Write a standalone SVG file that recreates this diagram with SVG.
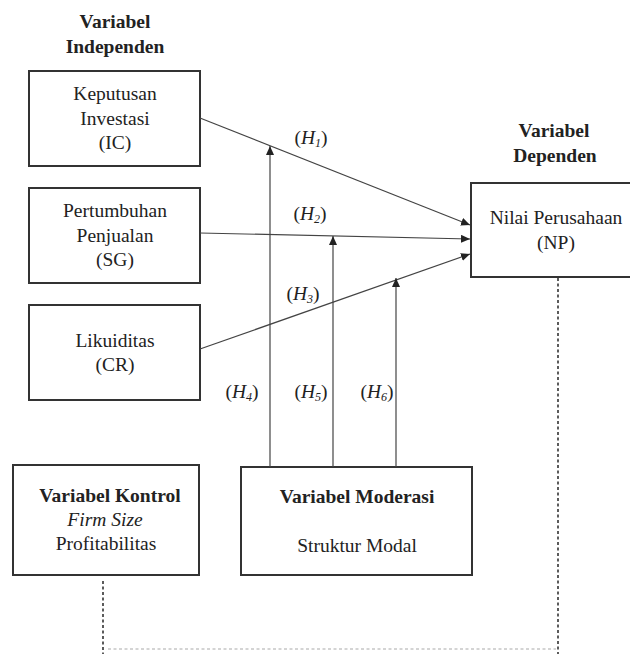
<svg xmlns="http://www.w3.org/2000/svg" width="630" height="654" viewBox="0 0 630 654">
<style>
text{font-family:"Liberation Serif","Times New Roman",serif;font-size:19.5px;fill:#222;text-anchor:middle}
.b{font-weight:bold}
.i{font-style:italic}
.box{fill:#fff;stroke:#333;stroke-width:2}
.ln{stroke:#444;stroke-width:1.2;fill:none}
.dot{stroke:#333;stroke-width:1.6;stroke-dasharray:3 2.5;fill:none}
.fdot{stroke:#aaa;stroke-width:1.2;stroke-dasharray:3 2.5;fill:none}
.sub{font-size:12px}
</style>
<defs>
<marker id="ah" markerWidth="9" markerHeight="8" refX="9" refY="4" orient="auto" markerUnits="userSpaceOnUse">
<path d="M0,0 L9,4 L0,8 Z" fill="#222"/>
</marker>
</defs>
<g id="title-independen">
<text class="b" x="115" y="28">Variabel</text>
<text class="b" x="115" y="53">Independen</text>
</g>
<g id="title-dependen">
<text class="b" x="554" y="137">Variabel</text>
<text class="b" x="555" y="162">Dependen</text>
</g>
<g id="node-ic">
<rect class="box" x="29" y="71" width="171" height="95"/>
<text x="115" y="100">Keputusan</text>
<text x="115" y="125">Investasi</text>
<text x="115" y="149">(IC)</text>
</g>
<g id="node-sg">
<rect class="box" x="29" y="188" width="171" height="95"/>
<text x="115" y="217">Pertumbuhan</text>
<text x="115" y="242">Penjualan</text>
<text x="115" y="266">(SG)</text>
</g>
<g id="node-cr">
<rect class="box" x="29" y="305" width="171" height="95"/>
<text x="115" y="347">Likuiditas</text>
<text x="115" y="371">(CR)</text>
</g>
<g id="node-np">
<rect class="box" x="471" y="183" width="164" height="94"/>
<text x="556" y="224">Nilai Perusahaan</text>
<text x="556" y="249">(NP)</text>
</g>
<g id="node-kontrol">
<rect class="box" x="13" y="465" width="186" height="110"/>
<text class="b" x="110" y="502">Variabel Kontrol</text>
<text class="i" x="105" y="526">Firm Size</text>
<text x="106" y="550">Profitabilitas</text>
</g>
<g id="node-moderasi">
<rect class="box" x="241" y="467" width="231" height="108"/>
<text class="b" x="357" y="503">Variabel Moderasi</text>
<text x="357" y="552">Struktur Modal</text>
</g>
<g id="connectors">
<line class="ln" x1="200" y1="118" x2="470" y2="225" marker-end="url(#ah)"/>
<line class="ln" x1="200" y1="233" x2="470" y2="239" marker-end="url(#ah)"/>
<line class="ln" x1="200" y1="349" x2="470" y2="254" marker-end="url(#ah)"/>
<line class="ln" x1="270" y1="467" x2="270" y2="146" marker-end="url(#ah)"/>
<line class="ln" x1="333" y1="467" x2="333" y2="236" marker-end="url(#ah)"/>
<line class="ln" x1="396" y1="467" x2="396" y2="278" marker-end="url(#ah)"/>
<line class="dot" x1="558" y1="278" x2="558" y2="654"/>
<line class="dot" x1="103" y1="581" x2="103" y2="654"/>
<line class="fdot" x1="108" y1="649" x2="556" y2="649"/>
</g>
<g id="labels">
<text x="311" y="144">(<tspan class="i">H</tspan><tspan class="i sub" dy="3">1</tspan><tspan dy="-3">)</tspan></text>
<text x="310" y="220">(<tspan class="i">H</tspan><tspan class="i sub" dy="3">2</tspan><tspan dy="-3">)</tspan></text>
<text x="303" y="300">(<tspan class="i">H</tspan><tspan class="i sub" dy="3">3</tspan><tspan dy="-3">)</tspan></text>
<text x="242" y="398">(<tspan class="i">H</tspan><tspan class="i sub" dy="3">4</tspan><tspan dy="-3">)</tspan></text>
<text x="311" y="398">(<tspan class="i">H</tspan><tspan class="i sub" dy="3">5</tspan><tspan dy="-3">)</tspan></text>
<text x="377" y="398">(<tspan class="i">H</tspan><tspan class="i sub" dy="3">6</tspan><tspan dy="-3">)</tspan></text>
</g>
</svg>
